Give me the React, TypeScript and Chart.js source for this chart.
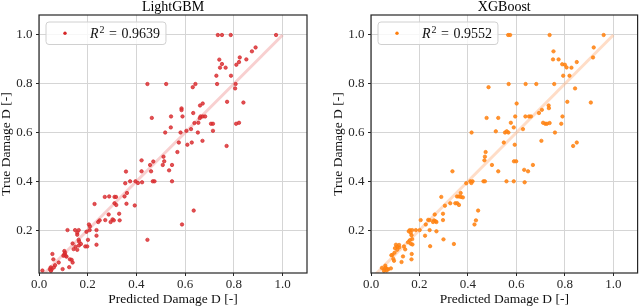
import React, { useEffect, useRef } from "react";
import { Chart, registerables } from "chart.js";

Chart.register(...registerables);

const FONT = "'Liberation Serif', 'DejaVu Serif', serif";

const xTicks = [0.0, 0.2, 0.4, 0.6, 0.8, 1.0];
const yTicks = [0.2, 0.4, 0.6, 0.8, 1.0];
const xRange = [0, 1.1];
const yRange = [0.024, 1.082];
const diagonal = [0.02, 1.0];

const lgbTitle = "LightGBM";
const lgbR2 = "0.9639";
const lgbPredicted = [
  0.734, 0.751, 0.787, 0.973, 0.889, 0.874, 0.851, 0.824, 0.821, 0.81, 0.74, 0.751, 0.743, 0.766, 0.728, 0.788,
  0.445, 0.522, 0.642, 0.731, 0.807, 0.631, 0.805, 0.772, 0.839, 0.672, 0.661, 0.585, 0.585, 0.633, 0.463, 0.542,
  0.589, 0.663, 0.672, 0.682, 0.66, 0.638, 0.654, 0.706, 0.714, 0.809, 0.821, 0.541, 0.624, 0.518, 0.581, 0.652,
  0.605, 0.714, 0.671, 0.574, 0.627, 0.609, 0.77, 0.568,
  0.511, 0.514, 0.421, 0.469, 0.456, 0.508, 0.546, 0.421, 0.46, 0.357, 0.534, 0.374, 0.396, 0.467, 0.474, 0.546,
  0.354, 0.406, 0.423, 0.361, 0.351, 0.31, 0.316, 0.27, 0.288, 0.31, 0.317, 0.359, 0.393, 0.228, 0.286, 0.329,
  0.302, 0.307, 0.272, 0.249, 0.243, 0.294, 0.331, 0.205, 0.209, 0.587, 0.635, 0.117, 0.148, 0.163, 0.208, 0.236,
  0.157, 0.157, 0.195, 0.236, 0.201, 0.163, 0.165, 0.445, 0.236, 0.138, 0.172, 0.164, 0.15, 0.19, 0.198, 0.142,
  0.157, 0.055, 0.104, 0.107, 0.104, 0.109, 0.1, 0.113, 0.059, 0.127, 0.134, 0.138, 0.081, 0.066, 0.048, 0.052,
  0.045, 0.061, 0.124, 0.097, 0.014, 0.049,
];
const lgbTrue = [
  1.0, 1.0, 1.0, 1.0, 0.949, 0.933, 0.9, 0.908, 0.889, 0.878, 0.899, 0.881, 0.866, 0.866, 0.833, 0.833,
  0.799, 0.799, 0.799, 0.799, 0.799, 0.786, 0.781, 0.726, 0.723, 0.719, 0.711, 0.699, 0.692, 0.68, 0.66, 0.666,
  0.666, 0.666, 0.666, 0.666, 0.659, 0.639, 0.64, 0.636, 0.636, 0.636, 0.64, 0.621, 0.614, 0.6, 0.6, 0.6,
  0.607, 0.607, 0.566, 0.559, 0.559, 0.55, 0.545, 0.52,
  0.501, 0.482, 0.486, 0.481, 0.467, 0.467, 0.467, 0.441, 0.441, 0.44, 0.445, 0.4, 0.4, 0.4, 0.4, 0.4,
  0.392, 0.393, 0.396, 0.352, 0.338, 0.336, 0.336, 0.336, 0.338, 0.31, 0.303, 0.308, 0.301, 0.307, 0.264, 0.267,
  0.244, 0.24, 0.241, 0.24, 0.233, 0.233, 0.24, 0.223, 0.215, 0.223, 0.28, 0.2, 0.2, 0.2, 0.2, 0.2,
  0.189, 0.181, 0.193, 0.177, 0.16, 0.16, 0.152, 0.16, 0.14, 0.145, 0.143, 0.137, 0.132, 0.133, 0.133, 0.122,
  0.119, 0.102, 0.114, 0.107, 0.1, 0.095, 0.095, 0.091, 0.08, 0.08, 0.078, 0.067, 0.067, 0.056, 0.047, 0.039,
  0.039, 0.047, 0.048, 0.04, 0.034, 0.033,
];

const xgbTitle = "XGBoost";
const xgbR2 = "0.9552";
const xgbPredicted = [
  0.566, 0.574, 0.737, 0.96, 0.919, 0.916, 0.753, 0.751, 0.774, 0.789, 0.8, 0.807, 0.827, 0.849, 0.793, 0.819,
  0.485, 0.568, 0.638, 0.682, 0.756, 0.842, 0.601, 0.81, 0.907, 0.733, 0.734, 0.705, 0.693, 0.477, 0.525, 0.595,
  0.637, 0.652, 0.66, 0.79, 0.577, 0.71, 0.719, 0.726, 0.737, 0.785, 0.589, 0.627, 0.415, 0.553, 0.567, 0.56,
  0.515, 0.759, 0.703, 0.548, 0.593, 0.834, 0.849, 0.473,
  0.47, 0.468, 0.499, 0.59, 0.599, 0.336, 0.525, 0.632, 0.648, 0.668, 0.393, 0.41, 0.419, 0.414, 0.464, 0.47,
  0.559, 0.589, 0.634, 0.37, 0.355, 0.363, 0.371, 0.379, 0.29, 0.348, 0.356, 0.363, 0.327, 0.305, 0.297, 0.297,
  0.263, 0.26, 0.266, 0.27, 0.256, 0.236, 0.242, 0.27, 0.205, 0.226, 0.242, 0.223, 0.244, 0.299, 0.342, 0.442,
  0.433, 0.427, 0.16, 0.17, 0.185, 0.201, 0.156, 0.164, 0.167, 0.17, 0.16, 0.153, 0.164, 0.171, 0.168, 0.167,
  0.108, 0.116, 0.108, 0.103, 0.116, 0.099, 0.097, 0.088, 0.092, 0.095, 0.136, 0.141, 0.132, 0.126, 0.084, 0.045,
  0.059, 0.06, 0.056, 0.066, 0.071, 0.082, 0.064, 0.053,
];
const xgbTrue = [
  1.0, 1.0, 1.0, 1.0, 0.949, 0.908, 0.933, 0.9, 0.9, 0.88, 0.878, 0.867, 0.866, 0.889, 0.833, 0.833,
  0.786, 0.799, 0.799, 0.799, 0.799, 0.781, 0.719, 0.726, 0.723, 0.711, 0.7, 0.693, 0.68, 0.66, 0.66, 0.666,
  0.666, 0.666, 0.666, 0.666, 0.64, 0.64, 0.636, 0.636, 0.639, 0.636, 0.621, 0.614, 0.6, 0.6, 0.6, 0.605,
  0.605, 0.6, 0.566, 0.559, 0.55, 0.545, 0.559, 0.52,
  0.501, 0.486, 0.467, 0.482, 0.482, 0.441, 0.441, 0.447, 0.441, 0.467, 0.392, 0.4, 0.4, 0.393, 0.4, 0.4,
  0.4, 0.4, 0.396, 0.352, 0.338, 0.338, 0.336, 0.334, 0.336, 0.31, 0.31, 0.303, 0.31, 0.3, 0.267, 0.241,
  0.264, 0.24, 0.236, 0.233, 0.233, 0.242, 0.241, 0.195, 0.241, 0.223, 0.2, 0.177, 0.134, 0.162, 0.143, 0.28,
  0.24, 0.223, 0.2, 0.2, 0.2, 0.2, 0.195, 0.189, 0.179, 0.163, 0.158, 0.15, 0.144, 0.141, 0.102, 0.08,
  0.119, 0.129, 0.132, 0.14, 0.139, 0.126, 0.107, 0.098, 0.082, 0.074, 0.133, 0.121, 0.092, 0.069, 0.097, 0.045,
  0.054, 0.045, 0.039, 0.041, 0.039, 0.043, 0.034, 0.033,
];

const xLabel = "Predicted Damage D [-]";
const yLabel = "True Damage D [-]";

type PanelSpec = {
  title: string;
  r2: string;
  predicted: number[];
  actual: number[];
  pointColor: string;
  pointFill: string;
  lineColor: string;
  axisWidth: number;
  yTitlePad: number;
  rightPad: number;
};

const framePlugin = {
  id: "frame",
  afterDatasetsDraw(chart: any) {
    const { ctx, chartArea } = chart;
    ctx.save();
    ctx.strokeStyle = "#262626";
    ctx.lineWidth = 1.2;
    ctx.strokeRect(chartArea.left, chartArea.top, chartArea.right - chartArea.left, chartArea.bottom - chartArea.top);
    ctx.restore();
  },
};

function legendPlugin(color: string, r2: string) {
  return {
    id: "r2legend",
    afterDraw(chart: any) {
      const { ctx, chartArea } = chart;
      const bx = chartArea.left + 7;
      const by = chartArea.top + 7;
      const h = 22.5;
      ctx.save();
      const fItal = `italic 14px ${FONT}`;
      const fReg = `14px ${FONT}`;
      const fSup = `10px ${FONT}`;
      ctx.font = fItal;
      const wR = ctx.measureText("R").width;
      ctx.font = fSup;
      const wSup = ctx.measureText("2").width;
      ctx.font = fReg;
      const wEq = ctx.measureText("=").width;
      const wNum = ctx.measureText(r2).width;
      const gap = 4.5;
      const textW = wR + 1 + wSup + gap + wEq + gap + wNum;
      const textX = bx + 44;
      const w = 44 + textW + 6;
      const r = 3;
      ctx.beginPath();
      ctx.moveTo(bx + r, by);
      ctx.lineTo(bx + w - r, by);
      ctx.arcTo(bx + w, by, bx + w, by + r, r);
      ctx.lineTo(bx + w, by + h - r);
      ctx.arcTo(bx + w, by + h, bx + w - r, by + h, r);
      ctx.lineTo(bx + r, by + h);
      ctx.arcTo(bx, by + h, bx, by + h - r, r);
      ctx.lineTo(bx, by + r);
      ctx.arcTo(bx, by, bx + r, by, r);
      ctx.closePath();
      ctx.fillStyle = "rgba(255,255,255,0.8)";
      ctx.fill();
      ctx.strokeStyle = "#d0d0d0";
      ctx.lineWidth = 1;
      ctx.stroke();
      ctx.beginPath();
      ctx.arc(bx + 19, by + h / 2, 1.7, 0, Math.PI * 2);
      ctx.fillStyle = color;
      ctx.fill();
      const base = by + h / 2 + 5;
      ctx.fillStyle = "#111";
      ctx.textBaseline = "alphabetic";
      ctx.textAlign = "left";
      let x = textX;
      ctx.font = fItal;
      ctx.fillText("R", x, base);
      x += wR + 1;
      ctx.font = fSup;
      ctx.fillText("2", x, base - 5.5);
      x += wSup + gap;
      ctx.font = fReg;
      ctx.fillText("=", x, base);
      x += wEq + gap;
      ctx.fillText(r2, x, base);
      ctx.restore();
    },
  };
}

function buildConfig(p: PanelSpec): any {
  const points = p.predicted.map((v, i) => ({ x: v, y: p.actual[i] }));
  const line = diagonal.map((v) => ({ x: v, y: v }));
  const tickFont = { family: FONT, size: 13, lineHeight: 1 };
  const titleFont = { family: FONT, size: 13.5, lineHeight: 1 };
  return {
    type: "scatter",
    data: {
      datasets: [
        {
          data: points,
          order: 1,
          pointRadius: 1.7,
          pointHoverRadius: 1.7,
          backgroundColor: p.pointFill,
          borderColor: p.pointColor,
          borderWidth: 0.7,
        },
        {
          type: "line",
          data: line,
          order: 2,
          showLine: true,
          borderColor: p.lineColor,
          borderWidth: 3,
          pointRadius: 0,
          fill: false,
        },
      ],
    },
    options: {
      animation: false,
      responsive: false,
      maintainAspectRatio: false,
      events: [],
      layout: { padding: { left: 0, right: p.rightPad, top: 0, bottom: 0 } },
      plugins: {
        legend: { display: false },
        tooltip: { enabled: false },
        title: {
          display: true,
          text: p.title,
          fullSize: false,
          color: "#000",
          font: { family: FONT, size: 14, lineHeight: 1, weight: "normal" },
          padding: { top: 0, bottom: 1 },
        },
      },
      scales: {
        x: {
          type: "linear",
          min: xRange[0],
          max: xRange[1],
          afterBuildTicks: (scale: any) => {
            scale.ticks = xTicks.map((v) => ({ value: v }));
          },
          afterFit: (scale: any) => {
            scale.height = 35;
          },
          ticks: {
            autoSkip: false,
            maxRotation: 0,
            padding: 2,
            color: "#262626",
            font: tickFont,
            callback: (v: any) => Number(v).toFixed(1),
          },
          grid: { color: "#d5d5d5", lineWidth: 1, tickColor: "#262626", tickLength: 3, drawTicks: true },
          border: { display: false },
          title: {
            display: true,
            text: xLabel,
            color: "#111",
            font: titleFont,
            padding: { top: 0, bottom: 1.5 },
          },
        },
        y: {
          type: "linear",
          min: yRange[0],
          max: yRange[1],
          afterBuildTicks: (scale: any) => {
            scale.ticks = yTicks.map((v) => ({ value: v }));
          },
          afterFit: (scale: any) => {
            scale.width = p.axisWidth;
          },
          ticks: {
            autoSkip: false,
            padding: 3.5,
            color: "#262626",
            font: tickFont,
            callback: (v: any) => Number(v).toFixed(1),
          },
          grid: { color: "#d5d5d5", lineWidth: 1, tickColor: "#262626", tickLength: 3, drawTicks: true },
          border: { display: false },
          title: {
            display: true,
            text: yLabel,
            color: "#111",
            font: titleFont,
            padding: { top: p.yTitlePad, bottom: 0 },
          },
        },
      },
    },
    plugins: [framePlugin, legendPlugin(p.pointColor, p.r2)],
  };
}

function Panel({ spec, left }: { spec: PanelSpec; left: number }) {
  const ref = useRef<HTMLCanvasElement | null>(null);
  useEffect(() => {
    if (!ref.current) return;
    const chart = new Chart(ref.current, buildConfig(spec));
    return () => chart.destroy();
  }, []);
  return (
    <div style={{ position: "absolute", left, top: 0, width: 320, height: 308 }}>
      <canvas ref={ref} width={320} height={308} style={{ width: 320, height: 308, display: "block" }} />
    </div>
  );
}

const lgbSpec: PanelSpec = {
  title: lgbTitle,
  r2: lgbR2,
  predicted: lgbPredicted,
  actual: lgbTrue,
  pointColor: "#d62728",
  pointFill: "rgba(220,50,55,0.85)",
  lineColor: "rgba(240,150,150,0.45)",
  axisWidth: 39,
  yTitlePad: 0,
  rightPad: 13,
};

const xgbSpec: PanelSpec = {
  title: xgbTitle,
  r2: xgbR2,
  predicted: xgbPredicted,
  actual: xgbTrue,
  pointColor: "#ff7f0e",
  pointFill: "rgba(255,135,25,0.9)",
  lineColor: "rgba(255,180,130,0.45)",
  axisWidth: 51,
  yTitlePad: 12,
  rightPad: 1,
};

export default function App() {
  return (
    <div style={{ position: "fixed", left: 0, top: 0, width: 640, height: 308, background: "#fff" }}>
      <Panel spec={lgbSpec} left={0} />
      <Panel spec={xgbSpec} left={320} />
    </div>
  );
}
